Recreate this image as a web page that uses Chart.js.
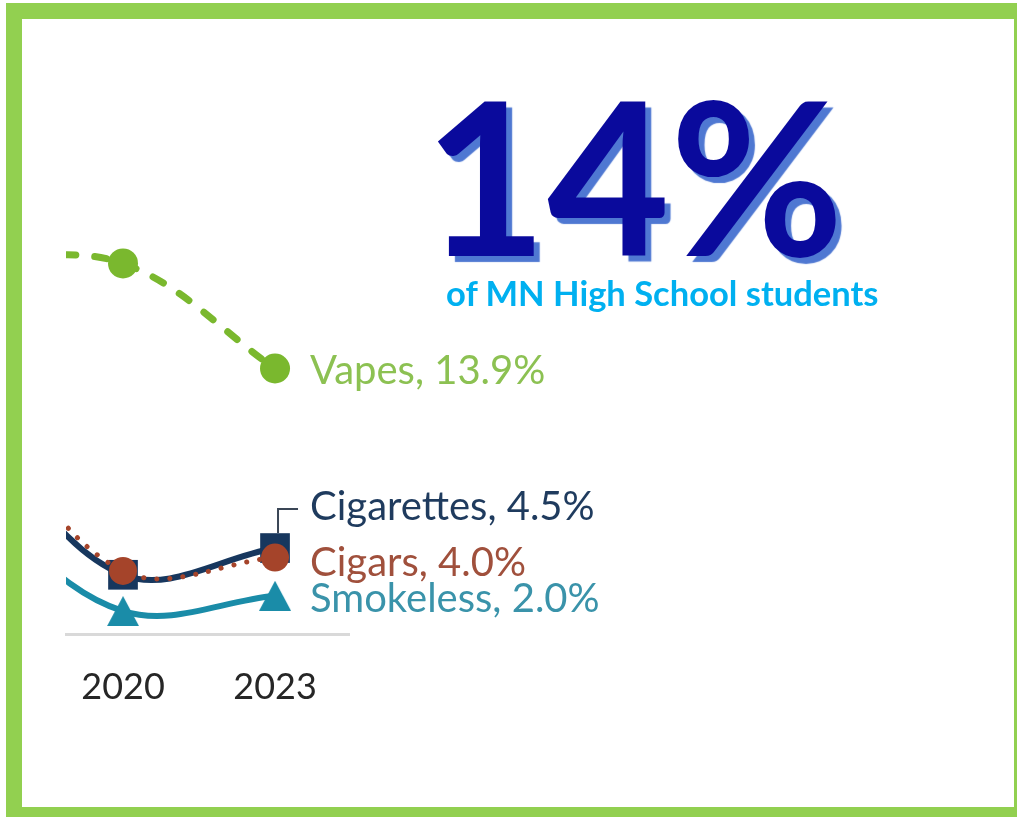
<!DOCTYPE html>
<html>
<head>
<meta charset="utf-8">
<script src="https://cdn.jsdelivr.net/npm/chart.js@4.4.0/dist/chart.umd.min.js"></script>
<style>
  html, body { margin: 0; padding: 0; background: #fff; }
  body { width: 1017px; height: 817px; position: relative; overflow: hidden; }
  .frame { position: absolute; left: 6px; top: 3px; width: 1011px; height: 814px; background: #92d050; }
  .panel { position: absolute; left: 16px; top: 16px; width: 992px; height: 788px; background: #fff; }
  #chart { position: absolute; left: 0; top: 0; }
  .big {
    position: absolute; left: 424px; top: 68px;
    font: bold 212px Lato, sans-serif; line-height: 1;
    color: #0a0a9c; text-shadow: 6px 6px 1px #4f78d2;
  }
  .sub {
    position: absolute; left: 446px; top: 276px;
    font: bold 34.5px Lato, sans-serif; line-height: 1; color: #00b0f0;
  }
</style>
</head>
<body>
<div class="frame"><div class="panel"></div></div>
<canvas id="chart" width="1017" height="817"></canvas>
<div class="big">14%</div>
<div class="sub">of MN High School students</div>
<script>
// survey years and % of high school students using each product
const years = [2017, 2020, 2023];
const tickYears = [2020, 2023];
const vapes = [19.6, 19.4, 13.9];
const cigarettes = [11.0, 3.1, 4.5];
const cigars = [12.0, 3.3, 4.0];
const smokeless = [7.0, 1.2, 2.0];

const toPoints = vals => vals.map((v, i) => ({ x: years[i], y: v }));

// triangle marker centred on its bounding box
function triangleMarker(color, w, h) {
  const c = document.createElement("canvas");
  c.width = w;
  c.height = h;
  const g = c.getContext("2d");
  g.fillStyle = color;
  g.beginPath();
  g.moveTo(w / 2, 0);
  g.lineTo(w, h);
  g.lineTo(0, h);
  g.closePath();
  g.fill();
  return c;
}

// series name + last value written to the right of the last point
const endLabels = {
  id: "endLabels",
  afterDatasetsDraw(chart) {
    const ctx = chart.ctx;
    chart.data.datasets.forEach((ds, i) => {
      const meta = chart.getDatasetMeta(i);
      const pt = meta.data[meta.data.length - 1];
      const v = ds.data[ds.data.length - 1].y;
      ctx.save();
      ctx.font = "40px Lato";
      ctx.fillStyle = ds.labelColor;
      ctx.textBaseline = "middle";
      ctx.fillText(`${ds.label}, ${v.toFixed(1)}%`, pt.x + 35, pt.y + ds.labelDy);
      if (ds.leader) {
        ctx.strokeStyle = "#3a4656";
        ctx.lineWidth = 2;
        ctx.beginPath();
        ctx.moveTo(pt.x + 3, pt.y - 15);
        ctx.lineTo(pt.x + 3, pt.y + ds.labelDy + 2);
        ctx.lineTo(pt.x + 23, pt.y + ds.labelDy + 2);
        ctx.stroke();
      }
      ctx.restore();
    });
  }
};

const leftClip = { left: 0, top: false, right: false, bottom: false };

new Chart(document.getElementById("chart"), {
  type: "line",
  data: {
    datasets: [
      {
        label: "Cigars",
        data: toPoints(cigars),
        borderColor: "#a5442a",
        borderWidth: 5,
        borderDash: [0.1, 13],
        borderCapStyle: "round",
        pointRadius: 14,
        pointBackgroundColor: "#a5442a",
        pointBorderWidth: 0,
        labelColor: "#a0503c",
        labelDy: 5,
        clip: leftClip
      },
      {
        label: "Cigarettes",
        data: toPoints(cigarettes),
        borderColor: "#17375e",
        borderWidth: 6,
        pointStyle: "rect",
        pointRadius: 21,
        pointBackgroundColor: "#17375e",
        pointBorderWidth: 0,
        labelColor: "#1f3b5e",
        labelDy: -41,
        leader: true,
        clip: leftClip
      },
      {
        label: "Smokeless",
        data: toPoints(smokeless),
        borderColor: "#1a8ca8",
        borderWidth: 6,
        pointStyle: triangleMarker("#1a8ca8", 32, 30),
        pointRadius: 16,
        pointBorderWidth: 0,
        labelColor: "#3a93aa",
        labelDy: 3,
        clip: leftClip
      },
      {
        label: "Vapes",
        data: toPoints(vapes),
        borderColor: "#7ab82e",
        borderWidth: 7,
        borderDash: [12, 19],
        borderCapStyle: "round",
        pointRadius: 15,
        pointBackgroundColor: "#7ab82e",
        pointBorderWidth: 0,
        labelColor: "#8cc152",
        labelDy: 3,
        clip: leftClip
      }
    ]
  },
  options: {
    responsive: false,
    animation: false,
    events: [],
    tension: 0.36,
    layout: { padding: { left: 66, right: 668, top: 252, bottom: 103 } },
    plugins: { legend: { display: false }, tooltip: { enabled: false } },
    scales: {
      x: {
        type: "linear",
        min: 2018.875,
        max: 2024.46,
        afterBuildTicks: s => { s.ticks = tickYears.map(v => ({ value: v })); },
        afterFit: s => { s.height = 80; },
        grid: { display: false, drawTicks: false },
        border: { display: true, color: "#d9d9d9", width: 3 },
        ticks: {
          font: { family: "Lato", size: 36 },
          color: "#262626",
          padding: 32,
          maxRotation: 0,
          autoSkip: false,
          callback: v => String(v)
        }
      },
      y: { min: 0, max: 20, display: false }
    }
  },
  plugins: [endLabels]
});
</script>
</body>
</html>
